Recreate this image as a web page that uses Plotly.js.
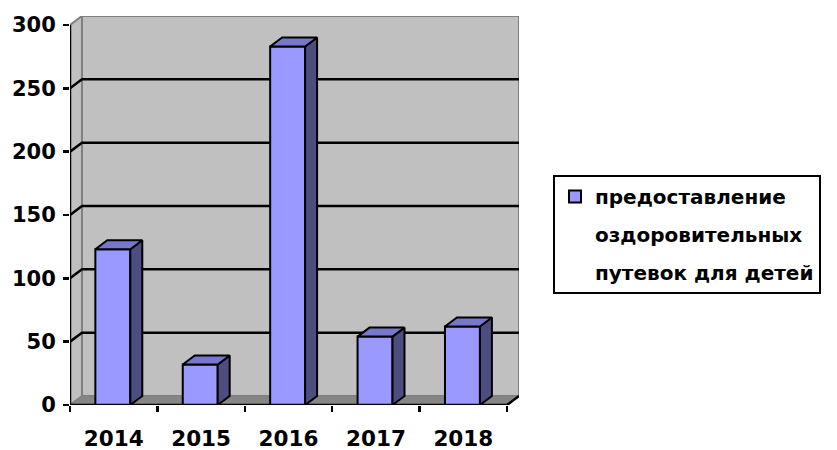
<!DOCTYPE html>
<html>
<head>
<meta charset="utf-8">
<script src="https://cdn.plot.ly/plotly-3.0.1.min.js"></script>
<style>html,body{margin:0;padding:0;background:#fff;}#chart{width:837px;height:450px;}</style>
</head>
<body>
<div id="chart"></div>
<script>
// ---- data ----
var categories = ['2014', '2015', '2016', '2017', '2018'];
var values = [123, 32, 283, 54, 62];
var seriesName = ['предоставление', 'оздоровительных', 'путевок для детей'];
var yTicks = [0, 50, 100, 150, 200, 250, 300];

// ---- 3D look parameters ----
var DX = 0.137;   // depth offset in category units
var DY = 7.1;     // depth offset in value units
var YMAX = 300;
var N = categories.length;
var BW = 0.4;     // bar width

var FRONT = '#9999FF', SIDE = '#4D4D80', TOP = '#7777CC';
var WALL = '#C0C0C0', WALLEDGE = '#808080', FLOOR = '#868686';

var xc = categories.map(function (c, i) { return i + 0.49; });

var shapes = [];
// back wall
shapes.push({type: 'rect', layer: 'below', xref: 'x', yref: 'y', x0: DX, x1: N + DX, y0: DY, y1: YMAX + DY,
  fillcolor: WALL, line: {color: WALLEDGE, width: 2}});
// left wall
shapes.push({type: 'path', layer: 'below', xref: 'x', yref: 'y',
  path: 'M0,0 L' + DX + ',' + DY + ' L' + DX + ',' + (YMAX + DY) + ' L0,' + YMAX + ' Z',
  fillcolor: WALL, line: {color: WALLEDGE, width: 2}});
// floor
shapes.push({type: 'path', layer: 'below', xref: 'x', yref: 'y',
  path: 'M0,0 L' + N + ',0 L' + (N + DX) + ',' + DY + ' L' + DX + ',' + DY + ' Z',
  fillcolor: FLOOR, line: {color: WALLEDGE, width: 1}});
// gridlines
yTicks.forEach(function (v) {
  if (v === 0 || v === YMAX) return;
  shapes.push({type: 'path', layer: 'below', xref: 'x', yref: 'y',
    path: 'M0,' + v + ' L' + DX + ',' + (v + DY) + ' L' + (N + DX) + ',' + (v + DY),
    line: {color: '#000', width: 2.5}});
});
// axis lines
shapes.push({type: 'path', layer: 'above', xref: 'x', yref: 'y',
  path: 'M0,0 L0,' + YMAX, line: {color: '#000', width: 2.5}});
shapes.push({type: 'path', layer: 'above', xref: 'x', yref: 'y',
  path: 'M0,0 L' + N + ',0 L' + (N + DX) + ',' + DY, line: {color: '#000', width: 2.5}});

// side and top faces of bars
var sx = [], sy = [], tx = [], ty = [];
values.forEach(function (v, i) {
  var x0 = xc[i] - BW / 2, x1 = xc[i] + BW / 2;
  sx.push(x1, x1 + DX, x1 + DX, x1, x1, null);
  sy.push(0, DY, v + DY, v, 0, null);
  tx.push(x0, x0 + DX, x1 + DX, x1, x0, null);
  ty.push(v, v + DY, v + DY, v, v, null);
});

var traces = [
  {type: 'bar', x: xc, y: values, width: BW, name: seriesName[0], legendgroup: 'a',
   marker: {color: FRONT, line: {color: '#000', width: 2}}, hoverinfo: 'skip'},
  {type: 'scatter', mode: 'lines', x: sx, y: sy, fill: 'toself', fillcolor: SIDE,
   line: {color: '#000', width: 2}, showlegend: false, hoverinfo: 'skip'},
  {type: 'scatter', mode: 'lines', x: tx, y: ty, fill: 'toself', fillcolor: TOP,
   line: {color: '#000', width: 2}, showlegend: false, hoverinfo: 'skip'},
  {type: 'scatter', mode: 'markers', x: [null], y: [null], name: seriesName[1], legendgroup: 'b',
   marker: {color: 'rgba(0,0,0,0)', size: 1}},
  {type: 'scatter', mode: 'markers', x: [null], y: [null], name: seriesName[2], legendgroup: 'c',
   marker: {color: 'rgba(0,0,0,0)', size: 1}}
];

var FONT = 'DejaVu Sans, sans-serif';

var layout = {
  width: 837, height: 450,
  margin: {l: 70, r: 318, t: 16, b: 45},
  paper_bgcolor: '#fff', plot_bgcolor: 'rgba(0,0,0,0)',
  showlegend: true,
  xaxis: {
    range: [0, N + DX], tickmode: 'array', tickvals: categories.map(function (c, i) { return i + 0.5; }),
    ticktext: categories, ticks: '', showgrid: false, zeroline: false, showline: false,
    ticklabelstandoff: 18,
    tickfont: {family: FONT, size: 21.5, color: '#000', weight: 'bold'},
    minor: {tickmode: 'array', tickvals: categories.map(function (c, i) { return i; }).concat([N]),
      ticks: 'outside', ticklen: 6, tickwidth: 2.5, tickcolor: '#000', showgrid: false},
    fixedrange: true
  },
  yaxis: {
    range: [0, YMAX + DY], tickmode: 'array', tickvals: yTicks, ticks: 'outside', ticklen: 6,
    tickwidth: 2.5, tickcolor: '#000', showgrid: false, zeroline: false, showline: false,
    ticklabelstandoff: 3,
    tickfont: {family: FONT, size: 21, color: '#000', weight: 'bold'},
    fixedrange: true
  },
  shapes: shapes,
  legend: {
    x: 1.0757, xanchor: 'left', y: 0.591, yanchor: 'top',
    bgcolor: '#fff', bordercolor: '#000', borderwidth: 2,
    traceorder: 'grouped', tracegroupgap: 9,
    font: {family: FONT, size: 20, color: '#000', weight: 'bold'}
  }
};

Plotly.newPlot('chart', traces, layout, {staticPlot: true, displayModeBar: false});
</script>
</body>
</html>
